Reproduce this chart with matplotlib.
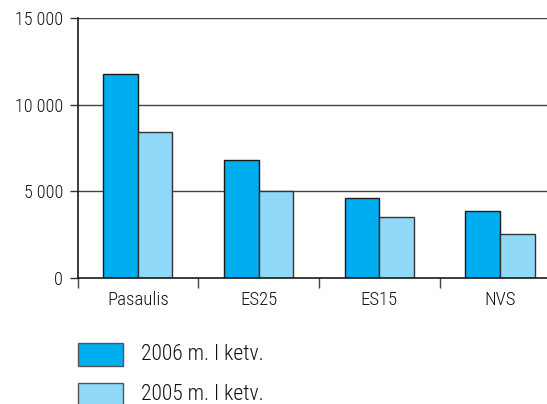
import numpy as np
import matplotlib.pyplot as plt
from matplotlib.patches import Rectangle

# Data
categories = ["Pasaulis", "ES25", "ES15", "NVS"]
values_2006 = [11750, 6830, 4620, 3860]
values_2005 = [8440, 5040, 3530, 2540]
series_labels = ["2006 m. I ketv.", "2005 m. I ketv."]
yticks = [0, 5000, 10000, 15000]
ytick_labels = ["0", "5 000", "10 000", "15 000"]

dark = "#00AEEF"
light = "#8FD8F7"
text_col = "#111111"
plt.rcParams["font.family"] = ["Roboto Condensed", "DejaVu Sans"]
plt.rcParams["font.weight"] = 300

fig = plt.figure(figsize=(5.47, 4.04), dpi=100)
ax = fig.add_axes([77.5 / 547, 1 - 278.3 / 404, 1 - 77.5 / 547, (278.3 - 17.7) / 404])

x = np.arange(len(categories))
w = 0.287
ax.bar(x - w / 2, values_2006, w, color=dark, edgecolor="#1a1a1a", linewidth=1.0, zorder=3)
ax.bar(x + w / 2, values_2005, w, color=light, edgecolor="#333333", linewidth=1.0, zorder=3)

ax.set_xlim(-0.5, 3.39)
ax.set_ylim(0, 15000)

# grid lines
for yv in yticks[1:]:
    ax.axhline(yv, color="#444444", linewidth=1.0, zorder=1)

ax.set_yticks(yticks)
ax.set_yticklabels(ytick_labels, fontsize=13, color=text_col)
ax.tick_params(axis="y", length=6, width=1, color="#333333", pad=4.5)

# category boundaries as ticks, labels at centres
ax.set_xticks([-0.5, 0.5, 1.5, 2.5])
ax.set_xticklabels([])
ax.set_xticks(x, minor=True)
ax.set_xticklabels(categories, minor=True, fontsize=13.5, color=text_col)
ax.tick_params(axis="x", which="major", length=7, width=1, color="#444444")
ax.tick_params(axis="x", which="minor", length=0, pad=9)

for s in ["top", "right"]:
    ax.spines[s].set_visible(False)
for s in ["left", "bottom"]:
    ax.spines[s].set_color("#1a1a1a")
    ax.spines[s].set_linewidth(1.2)
    ax.spines[s].set_zorder(4)

# legend
W, H = 547, 404
for i, (lab, col) in enumerate(zip(series_labels, [dark, light])):
    top = 343.3 + 40 * i
    fig.add_artist(Rectangle((77.7 / W, 1 - (top + 22.4) / H), 45.6 / W, 22.4 / H,
                             transform=fig.transFigure, facecolor=col,
                             edgecolor="#555555", linewidth=1.0))
    fig.text(141 / W, 1 - (top + 11.2) / H, lab, fontsize=15.5, color=text_col,
             va="center", ha="left")

fig.savefig("out.png", dpi=100)
